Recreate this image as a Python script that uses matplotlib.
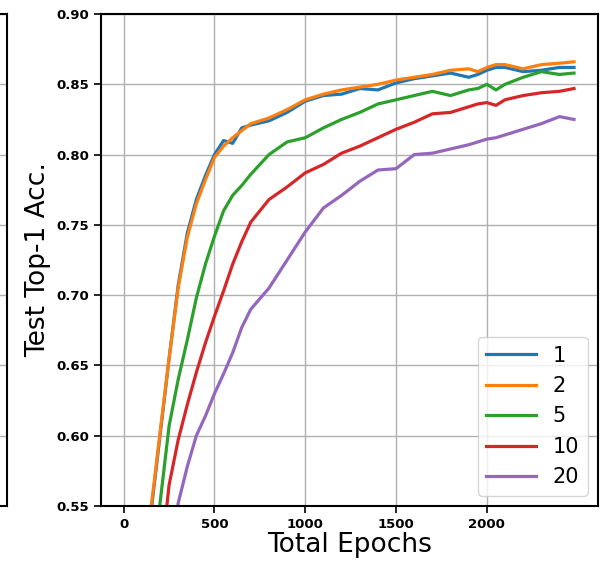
import matplotlib
matplotlib.use("Agg")
import matplotlib.pyplot as plt
import numpy as np

epochs = [0, 100, 150, 200, 250, 300, 350, 400, 450, 500, 550, 600, 650, 700,
          800, 900, 1000, 1100, 1200, 1300, 1400, 1500, 1600, 1700, 1800, 1900,
          1950, 2000, 2050, 2100, 2200, 2300, 2400, 2480]

acc_1 = [0.10, 0.40, 0.545, 0.600, 0.655, 0.707, 0.744, 0.768, 0.785, 0.800, 0.810,
         0.808, 0.819, 0.821, 0.824, 0.830, 0.838, 0.842, 0.843, 0.847, 0.846, 0.851,
         0.854, 0.856, 0.858, 0.855, 0.857, 0.860, 0.862, 0.862, 0.859, 0.860, 0.862, 0.862]
acc_2 = [0.10, 0.40, 0.548, 0.602, 0.655, 0.705, 0.741, 0.765, 0.782, 0.798, 0.806,
         0.812, 0.817, 0.822, 0.826, 0.832, 0.839, 0.843, 0.846, 0.848, 0.850, 0.853,
         0.855, 0.857, 0.860, 0.861, 0.859, 0.862, 0.864, 0.864, 0.861, 0.864, 0.865, 0.866]
acc_5 = [0.10, 0.35, 0.47, 0.552, 0.607, 0.640, 0.668, 0.698, 0.722, 0.742, 0.760,
         0.771, 0.778, 0.786, 0.800, 0.809, 0.812, 0.819, 0.825, 0.830, 0.836, 0.839,
         0.842, 0.845, 0.842, 0.846, 0.847, 0.850, 0.846, 0.850, 0.855, 0.859, 0.857, 0.858]
acc_10 = [0.08, 0.30, 0.42, 0.505, 0.565, 0.597, 0.622, 0.645, 0.666, 0.685, 0.703,
          0.722, 0.738, 0.752, 0.768, 0.777, 0.787, 0.793, 0.801, 0.806, 0.812, 0.818,
          0.823, 0.829, 0.830, 0.834, 0.836, 0.837, 0.835, 0.839, 0.842, 0.844, 0.845, 0.847]
acc_20 = [0.05, 0.25, 0.36, 0.44, 0.51, 0.552, 0.578, 0.600, 0.614, 0.630, 0.644,
          0.659, 0.677, 0.690, 0.705, 0.725, 0.745, 0.762, 0.771, 0.781, 0.789, 0.790,
          0.800, 0.801, 0.804, 0.807, 0.809, 0.811, 0.812, 0.814, 0.818, 0.822, 0.827, 0.825]

series = [("1", acc_1, "tab:blue"), ("2", acc_2, "tab:orange"), ("5", acc_5, "tab:green"),
          ("10", acc_10, "tab:red"), ("20", acc_20, "tab:purple")]

yticks = [0.55, 0.60, 0.65, 0.70, 0.75, 0.80, 0.85, 0.90]
xticks = [0, 500, 1000, 1500, 2000]

fig = plt.figure(figsize=(6.03, 5.65), dpi=100)

# sliver of the neighbouring panel on the left
ax0 = fig.add_axes([-0.5, 0.1044, 0.5 + 7 / 603, 0.8708])
ax0.set_ylim(0.55, 0.90)
ax0.set_yticks(yticks)
ax0.set_yticklabels([])
ax0.set_xticks([])
ax0.grid(True, color="#b0b0b0", linewidth=1.0)
for s in ax0.spines.values():
    s.set_linewidth(1.5)

ax = fig.add_axes([0.1675, 0.1044, 0.8242, 0.8708])
for label, vals, col in series:
    ax.plot(epochs, vals, color=col, linewidth=2.3, label=label)

ax.set_xlim(-125, 2612)
ax.set_ylim(0.55, 0.90)
ax.set_xticks(xticks)
ax.set_yticks(yticks)
ax.set_yticklabels(["%.2f" % t for t in yticks])
ax.tick_params(labelsize=9.5, length=5, width=1.2)
for lab in ax.get_xticklabels() + ax.get_yticklabels():
    lab.set_fontweight("bold")
ax.grid(True, color="#b0b0b0", linewidth=1.0)
for s in ax.spines.values():
    s.set_linewidth(1.5)

ax.set_xlabel("Total Epochs", fontsize=19, labelpad=1)
ax.set_ylabel("Test Top-1 Acc.", fontsize=19, labelpad=4)
ax.legend(loc="lower right", fontsize=15, handlelength=2.4)

fig.savefig("out.png", dpi=100)
